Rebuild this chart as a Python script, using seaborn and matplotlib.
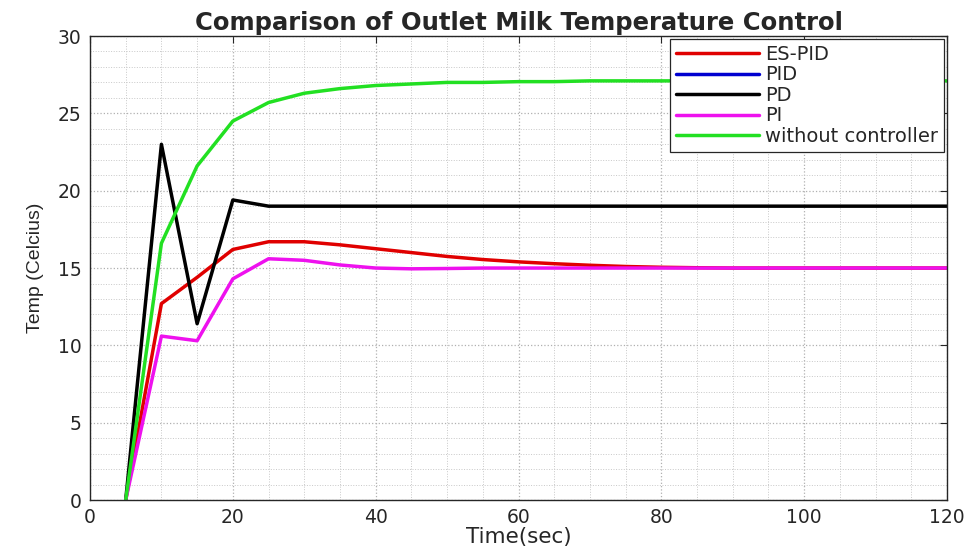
import numpy as np
import pandas as pd
import matplotlib
matplotlib.use("Agg")
import matplotlib.pyplot as plt
import seaborn as sns
from matplotlib.ticker import MultipleLocator

# sample times (sec)
time = [5, 10, 15, 20, 25, 30, 35, 40, 45, 50, 55, 60, 65, 70, 75, 80,
        85, 90, 95, 100, 105, 110, 115, 120]

es_pid = [0, 12.7, 14.4, 16.2, 16.7, 16.7, 16.5, 16.25, 16.0, 15.75, 15.55, 15.4,
          15.28, 15.18, 15.1, 15.05, 15.02, 15.0, 15.0, 15.0, 15.0, 15.0, 15.0, 15.0]
pid = [0, 10.6, 10.3, 14.3, 15.6, 15.5, 15.2, 15.0, 14.95, 14.97, 15.0, 15.0,
       15.0, 15.0, 15.0, 15.0, 15.0, 15.0, 15.0, 15.0, 15.0, 15.0, 15.0, 15.0]
pd_ctrl = [0, 23.0, 11.4, 19.4, 19.0, 19.0, 19.0, 19.0, 19.0, 19.0, 19.0, 19.0,
           19.0, 19.0, 19.0, 19.0, 19.0, 19.0, 19.0, 19.0, 19.0, 19.0, 19.0, 19.0]
pi_ctrl = [0, 10.6, 10.3, 14.3, 15.6, 15.5, 15.2, 15.0, 14.95, 14.97, 15.0, 15.0,
           15.0, 15.0, 15.0, 15.0, 15.0, 15.0, 15.0, 15.0, 15.0, 15.0, 15.0, 15.0]
no_ctrl = [0, 16.6, 21.6, 24.5, 25.7, 26.3, 26.6, 26.8, 26.9, 27.0, 27.0, 27.05,
           27.05, 27.1, 27.1, 27.1, 27.1, 27.1, 27.1, 27.1, 27.1, 27.1, 27.1, 27.1]

labels = ['ES-PID', 'PID', 'PD', 'PI', 'without controller']
colors = ['#e00000', '#0000d0', '#000000', '#ee11ee', '#22e022']

series = [es_pid, pid, pd_ctrl, pi_ctrl, no_ctrl]
df = pd.concat([pd.DataFrame({'time': time, 'temp': s, 'controller': lab})
                for s, lab in zip(series, labels)], ignore_index=True)

sns.set_style("white")
plt.rcParams['font.family'] = ['DejaVu Sans']

fig = plt.figure(figsize=(9.74, 5.6), dpi=100)
ax = fig.add_axes([0.0924, 0.107, 0.8799, 0.8287])

sns.lineplot(data=df, x='time', y='temp', hue='controller', hue_order=labels,
             palette=colors, linewidth=2.5, ax=ax, legend=True)
# PID sits under the PI curve, keep it thin so no blue fringe shows
ax.lines[1].set_linewidth(1.2)

ax.set_xlim(0, 120)
ax.set_ylim(0, 30)
ax.xaxis.set_major_locator(MultipleLocator(20))
ax.xaxis.set_minor_locator(MultipleLocator(5))
ax.yaxis.set_major_locator(MultipleLocator(5))
ax.yaxis.set_minor_locator(MultipleLocator(1))
ax.grid(which='major', color='#b0b0b0', linestyle=':', linewidth=0.9)
ax.grid(which='minor', color='#c8c8c8', linestyle=':', linewidth=0.7)
ax.tick_params(which='major', direction='in', length=5, labelsize=13.5, colors='#262626',
               top=True, right=True, pad=6)
ax.tick_params(which='minor', length=0)
for sp in ax.spines.values():
    sp.set_color('#262626')
    sp.set_linewidth(1.0)

ax.set_xlabel('Time(sec)', fontsize=15.5, labelpad=0, color='#262626')
ax.set_ylabel('Temp (Celcius)', fontsize=14, labelpad=10, color='#262626',
              family='Liberation Sans')
ax.set_title('Comparison of Outlet Milk Temperature Control', fontsize=17.5,
             fontweight='bold', pad=4)

handles, labs = ax.get_legend_handles_labels()
leg = ax.legend(handles, labs, loc='upper right', fontsize=14, frameon=True,
                fancybox=False, edgecolor='#262626', framealpha=1,
                borderaxespad=0.15, handlelength=4.3, labelspacing=0.08,
                handletextpad=0.3, borderpad=0.3)
leg.get_frame().set_linewidth(0.9)
for line in leg.get_lines():
    line.set_linewidth(2.5)

fig.savefig('out.png', dpi=100)
